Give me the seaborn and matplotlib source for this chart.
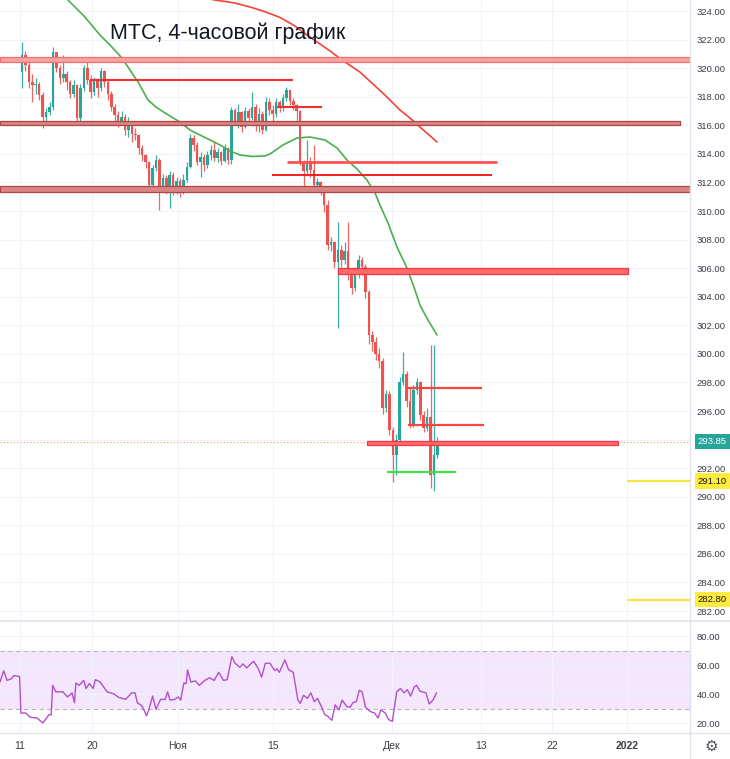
import numpy as np
import pandas as pd
import matplotlib
matplotlib.use("Agg")
import matplotlib.pyplot as plt
import matplotlib.transforms as mtransforms
from matplotlib.patches import Rectangle
from matplotlib.lines import Line2D
import seaborn as sns

# --- данные (ось X: торговые дни от 11 окт, 3 свечи 4ч на день) ---
tick_days = [0, 6.99, 15.34, 24.56, 36.12, 44.76, 51.65, 58.93]
tick_labels = ["11", "20", "Ноя", "15", "Дек", "13", "22", "2022"]

open0 = 319.7
closes = [320.9, 320.2, 319.0, 318.8, 318.9, 318.1, 316.6, 316.9, 317.3, 321.1,
          320.0, 319.3, 319.6, 319.0, 318.2, 318.8, 316.5, 318.6, 320.0, 319.2,
          318.3, 319.1, 318.6, 319.8, 319.0, 318.2, 317.3, 316.7, 316.3, 316.6,
          315.7, 316.2, 315.4, 315.3, 314.4, 313.9, 313.4, 311.8, 313.0, 313.6,
          311.5, 312.3, 311.6, 312.5, 311.5, 312.1, 311.4, 312.2, 313.1, 315.1,
          314.6, 313.4, 313.8, 313.2, 313.9, 314.3, 313.7, 314.1, 313.5, 314.4,
          313.6, 317.1, 316.3, 316.9, 315.9, 317.0, 316.5, 317.3, 316.0, 316.8,
          315.7, 317.6, 317.1, 316.8, 317.6, 317.2, 317.9, 318.5, 317.7, 317.4,
          317.0, 313.4, 312.8, 313.5, 312.9, 311.8, 312.0, 311.4, 310.4, 307.6,
          307.8, 306.4, 307.3, 306.6, 307.2, 305.5, 304.6, 305.8, 306.6, 306.1,
          304.3, 301.3, 300.8, 300.0, 299.5, 296.2, 297.2, 294.7, 292.9, 294.0,
          298.0, 298.6, 296.7, 295.1, 297.5, 298.0, 295.7, 294.8, 295.6, 291.5,
          292.9, 293.85]
highs = [321.8, 321.2, 320.5, 319.6, 319.3, 319.0, 318.3, 317.2, 317.6, 321.5,
         321.1, 320.2, 320.9, 319.8, 319.2, 319.2, 318.9, 318.9, 320.2, 320.4,
         319.5, 319.4, 319.3, 320.0, 319.9, 319.2, 318.4, 317.5, 317.0, 317.0,
         316.8, 316.6, 316.3, 315.8, 315.4, 314.6, 314.0, 313.5, 313.2, 313.9,
         313.7, 312.6, 312.5, 312.8, 312.7, 312.4, 312.3, 312.6, 313.4, 315.4,
         315.3, 314.8, 314.1, 314.0, 314.2, 314.6, 314.9, 314.4, 314.2, 314.7,
         314.5, 317.3, 317.2, 317.5, 317.0, 317.3, 317.2, 318.3, 317.5, 317.2,
         317.0, 318.0, 317.9, 317.4, 317.9, 317.8, 318.2, 318.7, 318.5, 317.9,
         317.5, 317.1, 313.6, 315.0, 313.8, 314.6, 312.3, 312.1, 311.6, 310.8,
         308.2, 307.9, 309.2, 307.6, 307.8, 309.2, 305.8, 306.1, 306.9, 306.8,
         306.3, 304.5, 301.6, 301.2, 300.4, 299.7, 297.5, 297.4, 294.9, 294.4,
         298.4, 300.1, 298.8, 297.7, 297.8, 298.3, 298.1, 296.0, 296.2, 300.6,
         300.6, 294.2]
lows = [318.6, 319.8, 318.6, 317.6, 318.2, 317.8, 315.8, 316.3, 316.7, 317.1,
        319.7, 318.9, 319.0, 318.5, 317.9, 318.0, 316.2, 316.3, 318.4, 318.9,
        317.9, 318.1, 318.0, 318.4, 318.7, 317.8, 317.0, 316.1, 315.9, 316.0,
        315.3, 315.2, 314.8, 315.0, 314.0, 313.5, 313.0, 311.5, 311.6, 312.8,
        310.1, 311.3, 311.2, 310.2, 311.1, 311.2, 311.0, 311.2, 312.0, 313.0,
        314.2, 313.2, 312.4, 312.8, 313.0, 313.6, 313.5, 313.4, 313.2, 313.4,
        313.3, 313.3, 316.0, 315.8, 315.5, 315.8, 316.2, 316.4, 315.6, 315.5,
        315.4, 315.6, 316.7, 316.2, 316.6, 316.9, 317.0, 317.7, 317.4, 317.1,
        316.2, 313.2, 311.5, 312.5, 312.4, 311.6, 311.3, 311.1, 309.9, 307.3,
        307.2, 306.0, 301.8, 306.1, 306.3, 305.2, 304.2, 304.4, 305.3, 305.5,
        303.9, 300.7, 300.2, 299.6, 299.0, 295.8, 295.9, 294.3, 291.0, 291.5,
        293.8, 297.8, 296.3, 294.8, 294.9, 297.2, 295.4, 294.5, 294.6, 290.6,
        290.4, 292.7]

# скользящие средние (день, цена)
ma_fast_days = [4.08, 4.66, 6.21, 7.77, 8.83, 9.90, 10.68, 11.46, 12.43, 13.2, 14.08,
                15.53, 16.5, 17.48, 18.45, 19.42, 20.39, 21.36, 22.52, 23.79, 24.27,
                25.53, 26.89, 28.16, 29.61, 30.78, 31.75, 32.72, 33.69, 34.47, 34.95,
                35.73, 36.60, 37.57, 38.25, 38.83, 39.61, 40.49]
ma_fast = [325.3, 324.77, 323.65, 322.32, 321.55, 320.71, 319.87, 319.03, 317.77, 317.28,
           316.86, 316.23, 315.67, 315.32, 314.97, 314.62, 314.20, 313.92, 313.82, 313.85,
           313.99, 314.62, 315.11, 315.18, 314.97, 314.41, 313.57, 312.94, 312.17, 311.26,
           310.42, 309.16, 307.48, 306.01, 304.68, 303.42, 302.37, 301.32]
ma_slow_days = [15.53, 18.93, 20.87, 22.33, 23.79, 25.24, 26.7, 27.86, 29.13, 30.10,
                31.55, 33.0, 34.27, 35.63, 36.89, 37.86, 38.83, 39.61, 40.49]
ma_slow = [325.3, 324.77, 324.56, 324.28, 323.95, 323.55, 322.95, 322.32, 321.69, 321.2,
           320.43, 319.73, 318.89, 317.98, 317.07, 316.51, 315.88, 315.39, 314.83]

# RSI
rsi_days = [-1.94, -1.58, -1.26, -0.81, -0.58, -0.04, 0.09, 0.54, 0.99, 1.67, 2.22, 2.58,
            2.80, 3.03, 3.17, 3.48, 4.16, 4.61, 5.06, 5.29, 5.43, 5.74, 6.19, 6.42,
            6.74, 7.10, 7.32, 7.78, 8.46, 9.13, 9.58, 10.26, 10.85, 11.17, 11.39,
            11.84, 12.30, 12.52, 12.88, 13.20, 13.65, 14.10, 14.33, 14.56, 15.01,
            15.37, 15.60, 15.91, 16.14, 16.27, 16.59, 17.04, 17.40, 17.95, 18.40,
            18.85, 19.30, 19.75, 20.11, 20.57, 20.88, 21.34, 21.65, 22.01, 22.47,
            22.69, 23.14, 23.46, 23.82, 24.27, 24.73, 24.95, 25.18, 25.72, 26.08,
            26.53, 26.98, 27.21, 27.53, 27.89, 28.25, 28.57, 28.88, 29.24, 29.60,
            29.92, 30.28, 30.60, 30.96, 31.28, 31.73, 32.05, 32.32, 32.64, 32.95,
            33.22, 33.54, 33.99, 34.44, 34.76, 35.03, 35.48, 35.80, 36.16, 36.57,
            36.93, 37.29, 37.61, 37.92, 38.28, 38.51, 38.83, 39.41, 39.73, 40.09,
            40.45]
rsi_vals = [48.3, 56.0, 49.4, 50.6, 52.8, 52.0, 26.8, 27.0, 24.0, 23.4, 20.0, 23.4,
            25.7, 25.7, 46.0, 41.5, 41.5, 38.0, 40.8, 34.0, 47.6, 46.0, 49.4, 43.8,
            47.2, 43.8, 49.9, 48.3, 41.5, 40.0, 37.7, 36.3, 40.8, 40.8, 34.0,
            31.8, 25.0, 29.5, 38.6, 29.5, 36.3, 36.3, 41.5, 35.8, 36.3,
            38.0, 35.8, 47.6, 47.2, 56.7, 48.3, 49.0, 46.0, 49.4, 51.2,
            49.4, 55.0, 49.4, 49.9, 65.7, 61.2, 58.5, 60.8, 58.0, 61.2,
            62.6, 57.4, 51.7, 61.2, 61.2, 56.2, 57.4, 55.0, 63.5, 56.7,
            55.0, 35.8, 33.6, 39.2, 37.0, 40.8, 34.7, 37.0, 31.8, 25.7,
            24.5, 21.8, 32.5, 29.0, 35.8, 31.3, 30.9, 34.0, 34.7, 42.6,
            41.5, 30.9, 28.0, 26.8, 23.4, 29.0, 26.8, 22.3, 21.1, 41.5,
            43.8, 40.8, 43.0, 38.6, 44.9, 46.0, 42.0, 40.8, 33.1, 35.8,
            40.8]

# уровни: широкие зоны
band_lo = [320.43, 316.00, 311.33, 305.60, 293.62]
band_hi = [320.75, 316.33, 311.72, 306.03, 293.92]
band_start = [-1.94, -1.94, -1.94, 30.87, 33.69]
band_end = [65.05, 64.08, 65.05, 59.03, 58.06]
# тонкие линии
line_level = [319.15, 317.25, 313.43, 312.52, 297.61, 295.02]
line_start = [6.8, 24.95, 25.92, 24.47, 37.57, 37.67]
line_end = [26.50, 29.32, 46.31, 45.83, 44.85, 45.05]
support_level = 291.73
support_start, support_end = 35.63, 42.33
target_levels = [291.10, 282.80]
target_start, target_end = 58.93, 65.05
last_price = 293.85

# --- стиль ---
sns.set_theme(style="white")
plt.rcParams['font.family'] = ['Liberation Sans', 'DejaVu Sans']

UP, DOWN = '#26a69a', '#ef5350'
GRID = '#f0f3fa'
XMIN, XMAX = -1.94, 65.05

fig = plt.figure(figsize=(7.3, 7.59), dpi=100)
ax = fig.add_axes([0, 1 - 620 / 759, 690 / 730, 620 / 759])
ax2 = fig.add_axes([0, 1 - 733 / 759, 690 / 730, 111 / 759])

# свечи
df = pd.DataFrame({'c': closes, 'h': highs, 'l': lows})
df['o'] = [open0] + closes[:-1]
df['t'] = 0.2 + np.arange(len(df)) / 3
cols = [UP if c >= o else DOWN for o, c in zip(df['o'], df['c'])]
body = (df['c'] - df['o']).where((df['c'] - df['o']).abs() > 0.06, 0.06)
ax.vlines(df['t'], df['l'], df['h'], colors=cols, lw=0.9, alpha=0.9, zorder=3)
ax.bar(df['t'], body, bottom=df['o'], width=0.25, color=cols, linewidth=0, zorder=4)

# средние
sns.lineplot(x=ma_fast_days, y=ma_fast, ax=ax, color='#4caf50', lw=1.2, sort=False, zorder=5)
sns.lineplot(x=ma_slow_days, y=ma_slow, ax=ax, color='#f44336', lw=1.2, sort=False, zorder=5)

# зоны
band_fc = ['#f7a3a3', '#d98585', '#d98585', '#ff6b6b', '#ff6b6b']
band_ec = ['#f26d6d', '#b04545', '#b04545', '#f23645', '#f23645']
for lo, hi, s, e, fc, ec in zip(band_lo, band_hi, band_start, band_end, band_fc, band_ec):
    ax.add_patch(Rectangle((s, lo), e - s, hi - lo, fc=fc, ec=ec, lw=0.9, zorder=6))

line_w = [1.5, 1.5, 2.0, 1.4, 1.6, 1.6]
line_c = ['#f23030', '#f23030', '#ff5252', '#f21f1f', '#ff4444', '#ff4444']
for lv, s, e, w, c in zip(line_level, line_start, line_end, line_w, line_c):
    ax.plot([s, e], [lv, lv], color=c, lw=w, solid_capstyle='butt', zorder=7)
ax.plot([support_start, support_end], [support_level] * 2, color='#45e045', lw=1.6,
        solid_capstyle='butt', zorder=7)
for lv in target_levels:
    ax.plot([target_start, target_end], [lv, lv], color='#f7e346', lw=1.6,
            solid_capstyle='butt', zorder=7)
ax.axhline(last_price, color='#eba066', lw=0.8, ls=(0, (1, 2)), zorder=2)

# оси цены
ax.set_xlim(XMIN, XMAX)
ax.set_ylim(281.37, 324.77)
ax.set_yticks(np.arange(282, 325, 2))
ax.yaxis.set_major_formatter(matplotlib.ticker.FuncFormatter(lambda v, p: f"{v:.2f}"))
ax.yaxis.tick_right()
ax.tick_params(axis='y', length=0, pad=5, labelsize=6.8, labelcolor='#3a3d46')
ax.set_xticks(tick_days)
ax.set_xticklabels([])
ax.tick_params(axis='x', length=0)
ax.grid(True, color=GRID, lw=0.8)
for sp in ax.spines.values():
    sp.set_visible(False)

tr = mtransforms.blended_transform_factory(ax.transAxes, ax.transData)
ax.text(1.011, last_price, f"{last_price:.2f}", transform=tr, fontsize=6.8, color='white',
        va='center', ha='left', zorder=10, clip_on=False,
        bbox=dict(boxstyle='square,pad=0.32', fc=UP, ec='none'))
for lv in target_levels:
    ax.text(1.011, lv, f"{lv:.2f}", transform=tr, fontsize=6.8, color='#131722',
            va='center', ha='left', zorder=10, clip_on=False,
            bbox=dict(boxstyle='square,pad=0.32', fc='#ffeb3b', ec='none'))

fig.text(110 / 730, 1 - 39 / 759, "МТС, 4-часовой график", fontsize=15.5,
         color='#131722', va='baseline', ha='left')

# RSI
ax2.axhspan(30, 70, color='#f3e6fd', lw=0, zorder=0)
for lv in (70, 30):
    ax2.axhline(lv, color='#b8b3c4', lw=0.8, ls=(0, (4, 3)), zorder=1)
sns.lineplot(x=rsi_days, y=rsi_vals, ax=ax2, color='#b34fca', lw=1.0, sort=False, zorder=3)
ax2.set_xlim(XMIN, XMAX)
ax2.set_ylim(13.1, 89.7)
ax2.set_yticks([20, 40, 60, 80])
ax2.yaxis.set_major_formatter(matplotlib.ticker.FuncFormatter(lambda v, p: f"{v:.2f}"))
ax2.yaxis.tick_right()
ax2.tick_params(axis='y', length=0, pad=5, labelsize=6.8, labelcolor='#3a3d46')
ax2.set_xticks(tick_days)
ax2.set_xticklabels(tick_labels)
ax2.tick_params(axis='x', length=0, pad=6, labelsize=7.5, labelcolor='#3a3d46')
ax2.get_xticklabels()[-1].set_fontweight('bold')
ax2.grid(True, color=GRID, lw=0.8)
for sp in ax2.spines.values():
    sp.set_visible(False)

# разделители панелей
sep = '#e0e3eb'
fig.add_artist(Line2D([690 / 730] * 2, [0, 1], color=sep, lw=1))
fig.add_artist(Line2D([0, 1], [1 - 621 / 759] * 2, color=sep, lw=1.2))
fig.add_artist(Line2D([0, 1], [1 - 733 / 759] * 2, color=sep, lw=1))
fig.text(711 / 730, 1 - 746 / 759, "\u2699", ha='center', va='center', fontsize=11,
         color='#50535e', family='DejaVu Sans')

fig.savefig("out.png", dpi=100)
